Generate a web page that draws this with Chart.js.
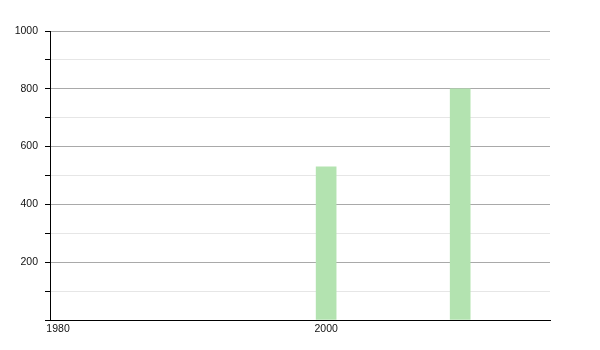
<!DOCTYPE html>
<html lang="en">
<head>
  <meta charset="UTF-8">
  <title>Bar chart</title>
  <script src="https://cdn.jsdelivr.net/npm/chart.js"></script>
  <style>
    html, body { margin: 0; padding: 0; background: #fff; }
    #wrap { width: 600px; height: 350px; }
  </style>
</head>
<body>
  <div id="wrap"><canvas id="chart"></canvas></div>

  <script>
    // values
    const years = [2000, 2010];
    const values = [530, 800];
    const xTickYears = [1980, 2000];
    const yMajorStep = 200;

    const barColor = '#b3e3b0';

    new Chart(document.getElementById('chart'), {
      type: 'bar',
      data: {
        datasets: [{
          data: years.map((y, i) => ({ x: y, y: values[i] })),
          backgroundColor: barColor,
          borderWidth: 0,
          barThickness: 20
        }]
      },
      options: {
        responsive: true,
        maintainAspectRatio: false,
        animation: false,
        layout: { padding: { top: 31, right: 50, left: 0, bottom: 0 } },
        plugins: { legend: { display: false }, tooltip: { enabled: false } },
        scales: {
          x: {
            type: 'linear',
            min: 1979.4,
            max: 2016.7,
            offset: false,
            afterBuildTicks: scale => { scale.ticks = xTickYears.map(v => ({ value: v })); },
            afterFit: scale => { scale.height = 30; },
            grid: { display: false },
            border: { display: true, color: '#000', width: 1 },
            ticks: {
              padding: -5,
              color: '#111',
              font: { family: 'Liberation Sans', size: 10.5 },
              callback: v => String(v)
            }
          },
          y: {
            min: 0,
            max: 1000,
            afterFit: scale => { scale.width = 50; },
            border: { display: true, color: '#000', width: 1 },
            grid: {
              color: ctx => (ctx.tick && ctx.tick.value % yMajorStep === 0) ? '#a9a9a9' : '#e6e6e6',
              tickColor: '#000',
              tickLength: 5
            },
            ticks: {
              stepSize: 100,
              padding: 7,
              color: '#111',
              font: { family: 'Liberation Sans', size: 10.5 },
              callback: v => (v % yMajorStep === 0 && v !== 0) ? String(v) : ''
            }
          }
        }
      }
    });
  </script>
</body>
</html>
